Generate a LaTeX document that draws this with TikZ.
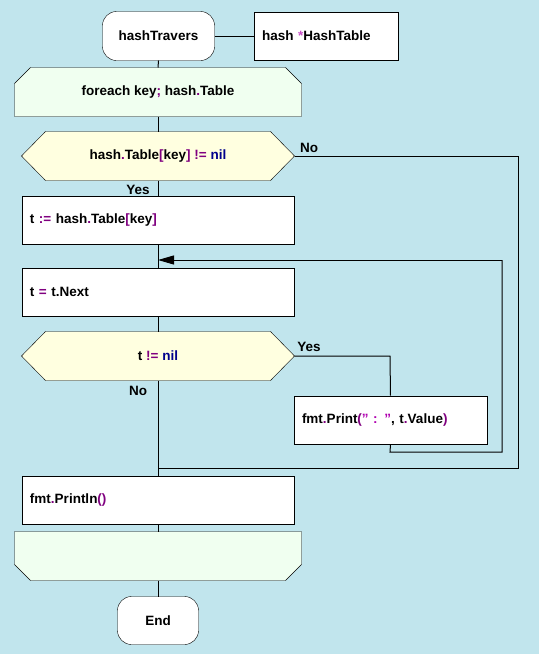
\documentclass[tikz,border=0pt]{standalone}
\usepackage{fontspec}
\setmainfont{Liberation Sans}
\usetikzlibrary{arrows.meta,backgrounds}
\definecolor{bgc}{RGB}{193,229,237}
\definecolor{loopc}{RGB}{240,255,240}
\definecolor{decc}{RGB}{255,255,224}
\definecolor{punc}{RGB}{128,0,128}
\definecolor{kwc}{RGB}{0,0,140}
\definecolor{strc}{RGB}{176,0,176}
\definecolor{starc}{RGB}{200,80,200}
\newcommand{\pu}[1]{\textcolor{punc}{#1}}
\newcommand{\kw}[1]{\textcolor{kwc}{#1}}
\newcommand{\st}[1]{\textcolor{strc}{#1}}
\newcommand{\dq}{\char"22\relax}
\begin{document}
\begin{tikzpicture}[x=1pt,y=-1pt,line width=1pt,
  font=\fontsize{13.5}{16}\selectfont\bfseries,
  base/.style={rectangle,inner sep=0pt,minimum height=48pt,draw=none},
  actbox/.style={base,draw,fill=white,minimum width=272pt,text width=256pt,align=left,inner xsep=8pt},
  decbox/.style={base,minimum width=272pt},
  loopbox/.style={base,minimum width=286pt},
  termbox/.style={base},
  lbl/.style={inner sep=0pt},
  flow/.style={draw,line width=1pt}]
\useasboundingbox (0,0) rectangle (539,654);

\node[termbox,minimum width=111pt] (start) at (158.5,36) {hashTravers};
\node[base,draw,fill=white,minimum width=144pt,text width=128pt,align=left,inner xsep=8pt] (param) at (326,36) {hash \textcolor{starc}{*}HashTable};
\node[loopbox] (lt) at (158,92) {foreach key\pu{;} hash\pu{.}Table};
\node[decbox] (d1) at (158,156) {hash\pu{.}Table\pu{[}key\pu{]} \pu{!=} \kw{nil}};
\node[actbox] (b1) at (158,220) {t \pu{:=} hash\pu{.}Table\pu{[}key\pu{]}};
\node[actbox] (b2) at (158,292) {t \pu{=} t.Next};
\node[decbox] (d2) at (158,356) {t \pu{!=} \kw{nil}};
\node[base,draw,fill=white,minimum width=193pt,text width=177pt,align=left,inner xsep=8pt] (b3) at (390.5,420) {fmt\pu{.}Print\pu{(}\st{\dq{} : \dq}, t\pu{.}Value\pu{)}};
\node[actbox] (b4) at (158,500) {fmt\pu{.}Println\pu{()}};
\node[loopbox] (le) at (158,556) {};
\node[termbox,minimum width=80pt,minimum height=47pt] (end) at (158,620.5) {End};

\node[lbl] (no1) at (309,148) {No};
\node[lbl] (yes1) at (138,190) {Yes};
\node[lbl] (yes2) at (309,347) {Yes};
\node[lbl] (no2) at (138,391) {No};

\coordinate (r1) at (518,156);
\coordinate (r2) at (518,468);
\coordinate (m1) at (158,468);
\coordinate (y1) at (390,356);
\coordinate (y2) at (390,452);
\coordinate (y3) at (502,452);
\coordinate (y4) at (502,260);
\coordinate (m2) at (158,260);

\path[flow] (start.east) -- (param.west);
\path[flow] (start.south) -- (lt.north);
\path[flow] (lt.south) -- (d1.north);
\path[flow] (d1.south) -- (b1.north);
\path[flow] (b1.south) -- (b2.north);
\path[flow] (b2.south) -- (d2.north);
\path[flow] (d2.south) -- (b4.north);
\path[flow] (b4.south) -- (le.north);
\path[flow] (le.south) -- (end.north);
\path[flow] (d1.east) -- (r1) -- (r2) -- (m1);
\path[flow] (d2.east) -- (y1) -- (b3.north);
\path[flow] (b3.south) -- (y2) -- (y3) -- (y4);
\path[flow,-{Triangle[length=16pt,width=9pt]}] (y4) -- (m2);

\begin{scope}[on background layer]
\fill[bgc] (0,0) rectangle (539,654);
\draw[fill=white,rounded corners=14pt] (start.north west) rectangle (start.south east);
\draw[fill=white,rounded corners=14pt] (end.north west) rectangle (end.south east);
\draw[fill=loopc] (lt.south west) -- ([yshift=-16pt]lt.north west) -- ([xshift=16pt]lt.north west)
  -- ([xshift=-16pt]lt.north east) -- ([yshift=-16pt]lt.north east) -- (lt.south east) -- cycle;
\draw[fill=loopc] (le.north west) -- (le.north east) -- ([yshift=16pt]le.south east)
  -- ([xshift=-16pt]le.south east) -- ([xshift=16pt]le.south west) -- ([yshift=16pt]le.south west) -- cycle;
\foreach \d in {d1,d2}{
\draw[fill=decc] (\d.west) -- ([xshift=24pt]\d.north west) -- ([xshift=-24pt]\d.north east)
  -- (\d.east) -- ([xshift=-24pt]\d.south east) -- ([xshift=24pt]\d.south west) -- cycle;
}
\end{scope}
\end{tikzpicture}
\end{document}
